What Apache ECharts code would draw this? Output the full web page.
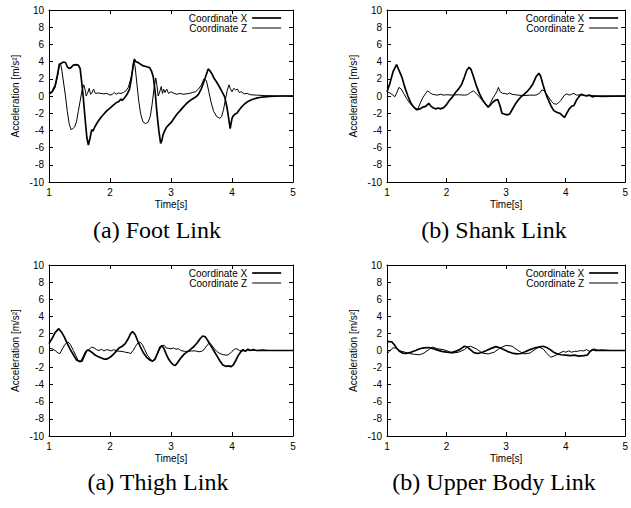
<!DOCTYPE html>
<html>
<head>
<meta charset="utf-8">
<script src="https://cdn.jsdelivr.net/npm/echarts@6/dist/echarts.min.js"></script>
<style>
  html, body { margin: 0; padding: 0; background: #fff; }
  #main { width: 631px; height: 508px; }
</style>
</head>
<body>
<div id="main"></div>
<script>
// tick labels
var timeTicks = [1, 2, 3, 4, 5];
var accTicks = [-10, -8, -6, -4, -2, 0, 2, 4, 6, 8, 10];

// (a) Foot Link
var footTimeX = [1.00, 1.05, 1.10, 1.14, 1.17, 1.20, 1.24, 1.27, 1.30, 1.33, 1.36, 1.40, 1.44, 1.48, 1.51, 1.53, 1.56, 1.59, 1.62, 1.645, 1.67, 1.70, 1.72, 1.75, 1.80, 1.85, 1.90, 1.95, 2.00, 2.05, 2.10, 2.15, 2.18, 2.20, 2.24, 2.28, 2.32, 2.35, 2.38, 2.40, 2.42, 2.46, 2.50, 2.55, 2.60, 2.65, 2.68, 2.71, 2.74, 2.77, 2.80, 2.83, 2.85, 2.87, 2.90, 2.93, 2.97, 3.00, 3.05, 3.10, 3.15, 3.20, 3.25, 3.30, 3.35, 3.40, 3.45, 3.50, 3.53, 3.56, 3.61, 3.64, 3.67, 3.71, 3.75, 3.79, 3.83, 3.88, 3.92, 3.97, 4.00, 4.02, 4.05, 4.08, 4.12, 4.16, 4.21, 4.27, 4.33, 4.40, 4.50, 4.62, 4.80, 5.00];
var footAccX = [0.3, 0.5, 1.2, 2.5, 3.7, 3.8, 3.95, 3.9, 3.4, 3.2, 3.3, 3.6, 3.65, 3.6, 3.2, 2.0, 0.0, -2.5, -4.8, -5.7, -5.0, -3.9, -4.1, -3.6, -3.0, -2.5, -2.1, -1.7, -1.4, -1.1, -0.8, -0.6, -0.35, -0.5, -0.2, 0.2, 0.8, 2.0, 3.6, 4.3, 4.0, 3.9, 3.7, 3.5, 3.4, 3.3, 2.9, 2.2, 0.5, -2.0, -4.0, -5.5, -5.2, -4.5, -4.0, -3.6, -3.3, -3.1, -2.6, -2.1, -1.7, -1.3, -0.9, -0.6, -0.35, -0.15, 0.2, 0.9, 1.5, 2.1, 3.15, 2.9, 2.6, 2.0, 1.6, 1.1, 0.6, -0.1, -1.4, -3.8, -2.6, -2.3, -2.1, -2.0, -1.6, -1.25, -0.9, -0.6, -0.4, -0.25, -0.12, -0.05, 0.0, 0.0];
var footTimeZ = [1.00, 1.05, 1.10, 1.14, 1.17, 1.19, 1.21, 1.24, 1.27, 1.30, 1.33, 1.36, 1.39, 1.42, 1.45, 1.48, 1.51, 1.54, 1.57, 1.59, 1.61, 1.63, 1.66, 1.68, 1.70, 1.73, 1.76, 1.80, 1.85, 1.90, 1.95, 2.00, 2.04, 2.07, 2.10, 2.14, 2.18, 2.22, 2.26, 2.30, 2.34, 2.37, 2.39, 2.41, 2.44, 2.47, 2.50, 2.54, 2.58, 2.62, 2.66, 2.69, 2.72, 2.75, 2.77, 2.79, 2.82, 2.84, 2.86, 2.88, 2.90, 2.93, 2.96, 3.00, 3.05, 3.10, 3.15, 3.20, 3.25, 3.30, 3.35, 3.40, 3.45, 3.50, 3.54, 3.58, 3.62, 3.66, 3.70, 3.75, 3.80, 3.83, 3.86, 3.89, 3.92, 3.95, 3.97, 4.00, 4.03, 4.06, 4.09, 4.12, 4.15, 4.20, 4.25, 4.30, 4.40, 4.55, 4.70, 5.00];
var footAccZ = [0.2, 0.4, 1.0, 2.3, 3.6, 3.8, 3.0, 1.5, 0.0, -1.8, -3.2, -3.9, -3.8, -3.6, -3.0, -1.8, -0.6, 0.6, 1.3, 0.8, 0.0, 0.3, 0.9, 0.2, 0.3, 0.8, 0.3, 0.35, 0.3, 0.25, 0.3, 0.1, 0.2, 0.4, 0.2, 0.35, 0.3, 0.4, 0.6, 1.0, 2.0, 3.0, 4.0, 3.5, 1.5, -0.5, -2.0, -3.0, -3.2, -3.1, -2.4, -1.0, 0.8, 2.1, 1.2, 0.0, 0.6, 1.1, 0.3, 0.8, 0.4, 0.8, 0.3, 0.5, 0.3, 0.2, 0.3, 0.2, 0.25, 0.3, 0.4, 0.5, 0.8, 1.3, 2.0, 1.8, 0.5, -0.8, -1.8, -2.4, -2.6, -2.4, -1.6, -0.5, 0.6, 1.3, 0.9, 0.5, 0.9, 0.7, 0.8, 0.4, 0.5, 0.25, 0.3, 0.15, 0.1, 0.05, 0.0, 0.0];

// (b) Shank Link
var shankTimeX = [1.00, 1.05, 1.10, 1.16, 1.20, 1.25, 1.30, 1.35, 1.40, 1.45, 1.50, 1.55, 1.60, 1.65, 1.70, 1.74, 1.78, 1.82, 1.86, 1.90, 1.95, 2.00, 2.05, 2.10, 2.15, 2.20, 2.25, 2.30, 2.34, 2.38, 2.41, 2.45, 2.50, 2.55, 2.60, 2.65, 2.70, 2.74, 2.78, 2.82, 2.86, 2.90, 2.93, 2.97, 3.02, 3.06, 3.10, 3.15, 3.20, 3.25, 3.30, 3.35, 3.40, 3.45, 3.50, 3.55, 3.58, 3.62, 3.66, 3.70, 3.75, 3.80, 3.85, 3.90, 3.95, 3.98, 4.02, 4.06, 4.10, 4.14, 4.18, 4.22, 4.26, 4.30, 4.35, 4.40, 4.45, 4.50, 4.60, 5.00];
var shankAccX = [0.5, 1.5, 2.8, 3.65, 3.0, 2.2, 1.0, 0.0, -0.8, -1.3, -1.6, -1.5, -1.3, -1.2, -0.85, -1.2, -1.4, -1.5, -1.4, -1.5, -1.35, -1.0, -0.5, -0.1, 0.4, 0.8, 1.3, 2.2, 3.0, 3.35, 3.1, 2.3, 1.2, 0.3, -0.4, -0.9, -1.3, -1.0, -0.7, -0.5, -0.4, -1.2, -2.0, -2.1, -2.2, -2.1, -1.6, -1.0, -0.5, -0.1, 0.2, 0.5, 0.9, 1.4, 2.2, 2.65, 2.3, 1.3, 0.4, -0.3, -1.1, -1.7, -1.9, -2.0, -2.3, -2.5, -2.0, -1.5, -1.2, -1.1, -0.5, -0.1, 0.2, 0.1, 0.0, 0.1, -0.1, 0.0, -0.05, 0.0];
var shankTimeZ = [1.00, 1.05, 1.10, 1.13, 1.16, 1.20, 1.24, 1.28, 1.33, 1.38, 1.43, 1.48, 1.52, 1.56, 1.60, 1.64, 1.68, 1.72, 1.76, 1.80, 1.85, 1.90, 1.95, 2.00, 2.10, 2.20, 2.30, 2.35, 2.40, 2.45, 2.50, 2.55, 2.60, 2.65, 2.70, 2.74, 2.78, 2.82, 2.85, 2.87, 2.90, 2.94, 2.98, 3.02, 3.06, 3.10, 3.20, 3.30, 3.40, 3.50, 3.56, 3.60, 3.64, 3.68, 3.72, 3.76, 3.80, 3.85, 3.88, 3.92, 3.95, 3.98, 4.02, 4.06, 4.10, 4.14, 4.18, 4.25, 4.32, 4.40, 4.50, 5.00];
var shankAccZ = [0.5, 0.35, 0.1, -0.1, 0.3, 1.0, 0.8, 0.3, -0.3, -0.8, -1.2, -1.5, -1.5, -0.8, -0.2, 0.2, 0.6, 0.4, 0.2, 0.15, 0.1, 0.2, 0.1, 0.15, 0.1, 0.15, 0.1, 0.15, 0.4, 0.6, 0.3, -0.1, -0.5, -0.9, -1.3, -0.8, -0.2, 0.2, 0.6, 1.0, 0.5, 0.3, 0.3, 0.2, 0.35, 0.2, 0.1, 0.05, 0.1, 0.1, 0.3, 0.7, 0.6, 0.2, -0.2, -0.6, -0.9, -0.95, -0.8, -0.5, -0.2, 0.1, 0.25, 0.1, 0.2, 0.3, 0.1, 0.15, 0.05, 0.1, 0.0, 0.0];

// (a) Thigh Link
var thighTimeX = [1.00, 1.05, 1.10, 1.16, 1.20, 1.25, 1.30, 1.35, 1.40, 1.45, 1.50, 1.54, 1.58, 1.62, 1.65, 1.70, 1.75, 1.80, 1.85, 1.90, 1.95, 2.00, 2.05, 2.10, 2.15, 2.20, 2.25, 2.30, 2.34, 2.37, 2.41, 2.45, 2.50, 2.55, 2.60, 2.65, 2.70, 2.74, 2.78, 2.82, 2.85, 2.88, 2.92, 2.96, 3.00, 3.04, 3.07, 3.12, 3.17, 3.22, 3.28, 3.33, 3.38, 3.43, 3.48, 3.52, 3.56, 3.60, 3.65, 3.70, 3.75, 3.80, 3.85, 3.90, 3.95, 3.98, 4.02, 4.06, 4.10, 4.14, 4.18, 4.22, 4.26, 4.30, 4.35, 4.40, 4.50, 4.60, 5.00];
var thighAccX = [0.8, 1.4, 2.1, 2.55, 2.2, 1.6, 0.8, 0.1, -0.5, -1.1, -1.3, -1.25, -0.6, 0.0, 0.05, -0.2, -0.5, -0.7, -0.85, -1.0, -1.0, -0.8, -0.5, -0.1, 0.3, 0.5, 0.8, 1.4, 2.0, 2.2, 1.9, 1.2, 0.4, -0.3, -0.8, -1.1, -1.25, -1.0, -0.3, 0.4, 0.55, 0.3, -0.4, -1.0, -1.4, -1.7, -1.75, -1.3, -0.8, -0.4, -0.1, 0.2, 0.5, 0.9, 1.4, 1.7, 1.6, 1.2, 0.6, 0.0, -0.6, -1.2, -1.7, -1.85, -1.8, -1.9, -1.7, -1.2, -0.6, -0.2, 0.1, -0.1, 0.15, 0.0, 0.1, 0.0, 0.05, 0.0, 0.0];
var thighTimeZ = [1.00, 1.05, 1.10, 1.15, 1.18, 1.22, 1.26, 1.31, 1.35, 1.40, 1.44, 1.48, 1.52, 1.56, 1.60, 1.65, 1.70, 1.74, 1.78, 1.82, 1.86, 1.90, 1.94, 1.98, 2.02, 2.06, 2.10, 2.15, 2.20, 2.25, 2.30, 2.34, 2.38, 2.42, 2.46, 2.49, 2.53, 2.57, 2.61, 2.66, 2.70, 2.74, 2.78, 2.82, 2.86, 2.89, 2.92, 2.96, 3.00, 3.04, 3.08, 3.12, 3.16, 3.22, 3.28, 3.34, 3.40, 3.46, 3.50, 3.54, 3.58, 3.63, 3.66, 3.70, 3.75, 3.80, 3.86, 3.92, 3.96, 4.00, 4.04, 4.08, 4.12, 4.18, 4.25, 4.35, 4.50, 5.00];
var thighAccZ = [0.25, 0.2, 0.0, -0.3, -0.35, 0.2, 0.7, 1.0, 0.7, 0.0, -0.6, -1.2, -1.25, -0.7, -0.1, 0.1, 0.4, 0.3, 0.1, 0.0, 0.15, -0.05, 0.1, 0.05, -0.05, 0.1, 0.0, -0.1, -0.1, -0.2, -0.25, -0.35, 0.0, 0.5, 0.9, 1.0, 0.7, 0.1, -0.5, -1.0, -1.25, -0.9, -0.3, 0.2, 0.6, 0.6, 0.3, 0.25, 0.2, 0.3, 0.15, 0.2, 0.0, -0.1, -0.1, -0.05, -0.05, -0.15, -0.1, 0.1, 0.5, 0.9, 0.7, 0.3, -0.1, -0.35, -0.5, -0.55, -0.4, -0.1, 0.15, 0.2, 0.0, -0.05, 0.05, 0.0, 0.0, 0.0];

// (b) Upper Body Link
var upperTimeX = [1.00, 1.04, 1.08, 1.12, 1.16, 1.21, 1.26, 1.32, 1.40, 1.48, 1.55, 1.62, 1.70, 1.78, 1.85, 1.92, 2.00, 2.08, 2.15, 2.22, 2.30, 2.35, 2.40, 2.46, 2.53, 2.60, 2.67, 2.75, 2.83, 2.88, 2.95, 3.02, 3.10, 3.18, 3.25, 3.32, 3.40, 3.48, 3.55, 3.62, 3.68, 3.74, 3.80, 3.86, 3.92, 4.00, 4.08, 4.15, 4.22, 4.30, 4.36, 4.40, 4.45, 4.50, 4.60, 4.75, 5.00];
var upperAccX = [1.0, 1.05, 1.0, 0.7, 0.3, -0.1, -0.3, -0.35, -0.2, 0.0, 0.2, 0.3, 0.35, 0.2, 0.05, -0.1, -0.2, -0.25, -0.1, 0.1, 0.5, 0.4, 0.1, -0.25, -0.35, -0.2, 0.0, 0.25, 0.45, 0.35, 0.15, -0.1, -0.3, -0.4, -0.35, -0.15, 0.1, 0.3, 0.4, 0.5, 0.35, 0.1, -0.2, -0.4, -0.5, -0.55, -0.6, -0.55, -0.65, -0.6, -0.55, -0.2, 0.1, 0.0, 0.05, 0.0, 0.0];
var upperTimeZ = [1.00, 1.05, 1.10, 1.14, 1.20, 1.30, 1.38, 1.46, 1.55, 1.62, 1.70, 1.76, 1.85, 1.95, 2.03, 2.10, 2.20, 2.30, 2.35, 2.40, 2.50, 2.60, 2.70, 2.80, 2.90, 3.00, 3.10, 3.20, 3.30, 3.40, 3.50, 3.55, 3.62, 3.68, 3.75, 3.82, 3.90, 3.96, 4.00, 4.05, 4.10, 4.15, 4.20, 4.25, 4.30, 4.35, 4.40, 4.48, 4.55, 4.70, 5.00];
var upperAccZ = [-0.4, 0.0, 0.3, 0.3, 0.0, -0.2, -0.35, -0.45, -0.5, -0.3, 0.1, 0.4, 0.2, 0.1, -0.1, -0.3, -0.2, 0.1, 0.4, 0.5, 0.2, -0.3, -0.4, -0.2, 0.3, 0.6, 0.5, 0.0, -0.4, -0.3, 0.2, 0.4, 0.2, -0.3, -0.8, -0.6, -0.3, -0.1, -0.2, -0.05, -0.2, -0.1, -0.1, 0.0, -0.05, 0.1, -0.1, 0.2, 0.0, 0.0, 0.0];

var panels = [
    { caption: '(a) Foot Link', tx: footTimeX, x: footAccX, tz: footTimeZ, z: footAccZ },
    { caption: '(b) Shank Link', tx: shankTimeX, x: shankAccX, tz: shankTimeZ, z: shankAccZ },
    { caption: '(a) Thigh Link', tx: thighTimeX, x: thighAccX, tz: thighTimeZ, z: thighAccZ },
    { caption: '(b) Upper Body Link', tx: upperTimeX, x: upperAccX, tz: upperTimeZ, z: upperAccZ }
];

// layout of the 2x2 grid (px)
var boxes = [
    { left: 49, top: 10, width: 244, height: 172, capX: 157, capY: 230 },
    { left: 387, top: 10, width: 243, height: 172, capX: 494, capY: 230 },
    { left: 49, top: 265, width: 244, height: 171, capX: 158, capY: 482 },
    { left: 387, top: 265, width: 243, height: 171, capX: 494, capY: 482 }
];

function pairs(t, v) {
    var out = [];
    for (var i = 0; i < t.length; i++) {
        out.push([t[i], v[i]]);
    }
    return out;
}

var font = '"Liberation Sans", Arial, sans-serif';
var tickStyle = { show: true, inside: true, length: 4, lineStyle: { color: '#000', width: 1 } };
var lineStyle = { show: true, onZero: false, lineStyle: { color: '#000', width: 1 } };
var thick = 1.7, thin = 1;

var grid = [], xAxis = [], yAxis = [], series = [], legend = [], graphic = [];

for (var i = 0; i < panels.length; i++) {
    var b = boxes[i];
    var p = panels[i];
    grid.push({ left: b.left, top: b.top, width: b.width, height: b.height, containLabel: false });

    // bottom axis with labels
    xAxis.push({
        type: 'value', gridIndex: i, position: 'bottom',
        min: timeTicks[0], max: timeTicks[timeTicks.length - 1], interval: 1,
        axisLine: lineStyle, axisTick: tickStyle, splitLine: { show: false },
        axisLabel: { color: '#000', fontSize: 10, fontFamily: font, margin: 5 },
        name: 'Time[s]', nameLocation: 'middle', nameGap: 17,
        nameTextStyle: { color: '#000', fontSize: 10, fontFamily: font }
    });
    // mirrored top axis
    xAxis.push({
        type: 'value', gridIndex: i, position: 'top',
        min: timeTicks[0], max: timeTicks[timeTicks.length - 1], interval: 1,
        axisLine: lineStyle, axisTick: tickStyle, splitLine: { show: false },
        axisLabel: { show: false }
    });
    yAxis.push({
        type: 'value', gridIndex: i, position: 'left',
        min: accTicks[0], max: accTicks[accTicks.length - 1], interval: 2,
        axisLine: lineStyle, axisTick: tickStyle, splitLine: { show: false },
        axisLabel: { color: '#000', fontSize: 10, fontFamily: font, margin: 5 },
        name: 'Acceleration [m/s²]', nameLocation: 'middle', nameGap: 29,
        nameTextStyle: { color: '#000', fontSize: 10, fontFamily: font }
    });
    yAxis.push({
        type: 'value', gridIndex: i, position: 'right',
        min: accTicks[0], max: accTicks[accTicks.length - 1], interval: 2,
        axisLine: lineStyle, axisTick: tickStyle, splitLine: { show: false },
        axisLabel: { show: false }
    });

    series.push({
        name: 'Coordinate X', type: 'line', xAxisIndex: i * 2, yAxisIndex: i * 2,
        data: pairs(p.tx, p.x), symbol: 'none', smooth: false,
        lineStyle: { color: '#000', width: thick }, itemStyle: { color: '#000' }, z: 3
    });
    series.push({
        name: 'Coordinate Z', type: 'line', xAxisIndex: i * 2, yAxisIndex: i * 2,
        data: pairs(p.tz, p.z), symbol: 'none', smooth: false,
        lineStyle: { color: '#000', width: thin }, itemStyle: { color: '#000' }, z: 2
    });

    legend.push({
        orient: 'vertical', align: 'right',
        right: 631 - (b.left + b.width - 11), top: b.top + 3,
        itemWidth: 29, itemHeight: 10, itemGap: 0, padding: 0,
        selectedMode: false,
        itemStyle: { opacity: 0 },
        textStyle: { color: '#000', fontSize: 10, fontFamily: font },
        data: [
            { name: 'Coordinate X', lineStyle: { color: '#000', width: thick } },
            { name: 'Coordinate Z', lineStyle: { color: '#000', width: thin } }
        ]
    });

    graphic.push({
        type: 'text', x: b.capX, y: b.capY,
        style: {
            text: p.caption, fill: '#000',
            font: '24px "Liberation Serif", "Times New Roman", serif',
            textAlign: 'center', textVerticalAlign: 'middle'
        }
    });
}

var myChart = echarts.init(document.getElementById('main'), null, { renderer: 'svg' });
myChart.setOption({
    animation: false,
    backgroundColor: '#fff',
    grid: grid,
    xAxis: xAxis,
    yAxis: yAxis,
    legend: legend,
    series: series,
    graphic: graphic
});
</script>
</body>
</html>
